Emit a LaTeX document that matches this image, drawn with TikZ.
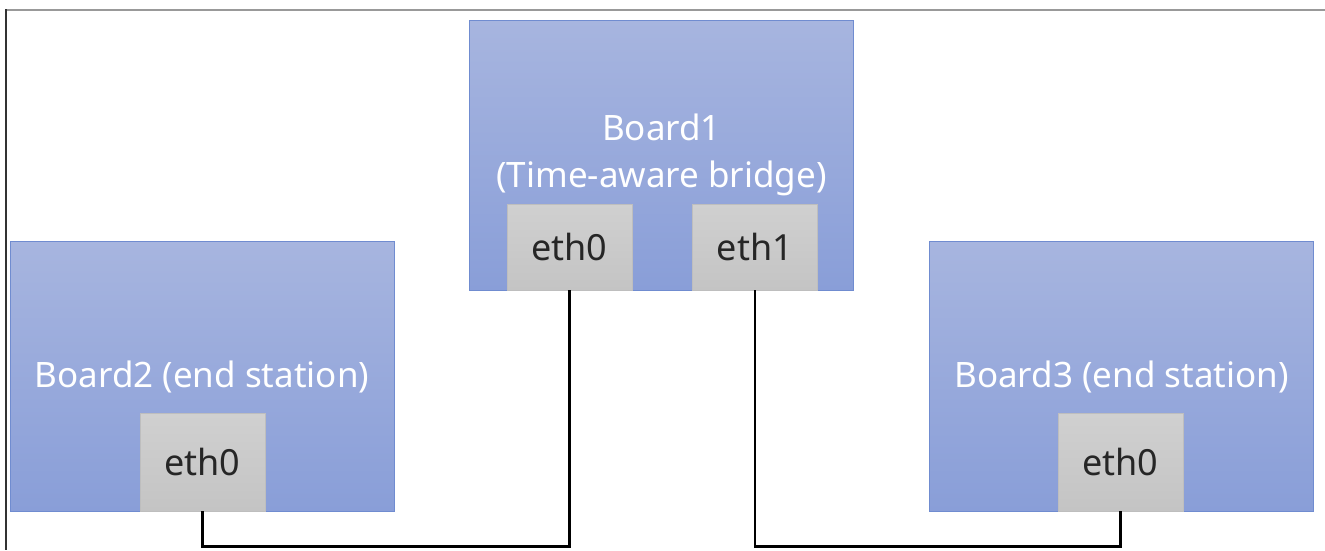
\documentclass[tikz,border=0pt]{standalone}
\usepackage{fontspec}
\setmainfont{Noto Sans}
\usepackage{xcolor}
\definecolor{boardtop}{RGB}{167,181,223}
\definecolor{boardbot}{RGB}{137,158,216}
\definecolor{boardline}{RGB}{112,140,208}
\definecolor{porttop}{RGB}{208,208,208}
\definecolor{portbot}{RGB}{196,196,196}
\definecolor{portline}{RGB}{190,190,190}

\begin{document}
\begin{tikzpicture}[x=1pt, y=-1pt,
    board/.style={rectangle, draw=boardline, line width=1pt, top color=boardtop, bottom color=boardbot,
        minimum width=384pt, minimum height=270pt, inner sep=0pt, text=white, align=center,
        font=\fontsize{35}{47}\selectfont},
    port/.style={rectangle, draw=portline, line width=0.8pt, top color=porttop, bottom color=portbot,
        minimum width=125pt, inner sep=0pt, text=black!85, font=\fontsize{36}{40}\selectfont},
    cable/.style={line width=2.6pt, black}]
            \useasboundingbox (0,0) rectangle (1325,550);
            \draw[gray!80, line width=2pt] (5,9.5) -- (1325,9.5);
            \draw[black!80, line width=2pt] (5.5,9) -- (5.5,550);
            \node[board] (b1) at (661.5,155) {Board1\\(Time-aware bridge)};
            \node[board] (b2) at (202,376.5) {Board2 (end station)};
            \node[board] (b3) at (1121.5,376.5) {Board3 (end station)};
            \node[port, minimum height=86pt] (b1e0) at (569.5,247) {eth0};
            \node[port, minimum height=86pt] (b1e1) at (755,247) {eth1};
            \node[port, minimum height=98pt] (b2e0) at (202.5,462) {eth0};
            \node[port, minimum height=98pt] (b3e0) at (1120.5,462) {eth0};
            \coordinate (lowA) at (202.5,546.5);
            \coordinate (lowB) at (755,546.5);
            \draw[cable] (b2e0.south) -- (lowA) -| (b1e0.south);
            \draw[cable] (b1e1.south) -- (lowB) -| (b3e0.south);
        \end{tikzpicture}
\end{document}
